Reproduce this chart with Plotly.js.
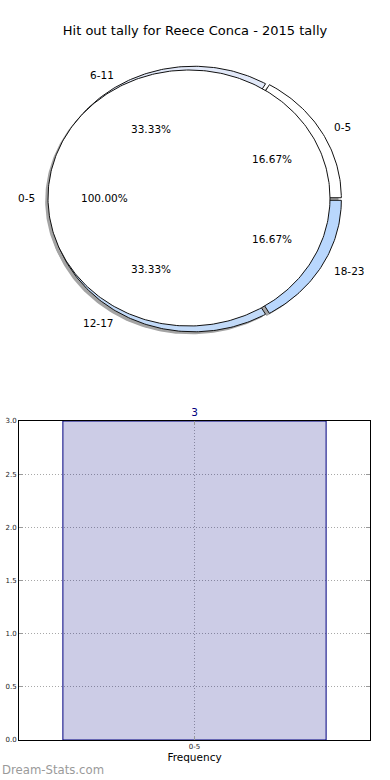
<!DOCTYPE html>
<html><head><meta charset="utf-8">
<script src="https://cdn.plot.ly/plotly-3.0.1.min.js"></script>
<style>html,body{margin:0;padding:0;background:#fff}#chart{width:390px;height:780px}</style>
</head><body><div id="chart"></div><script>
// ---- data ----
const chartTitle = 'Hit out tally for Reece Conca - 2015 tally';
const innerLabels = ['0-5'];
const innerValues = [3];
const outerLabels = ['0-5', '6-11', '12-17', '18-23'];
const outerValues = [1, 2, 2, 1];
const barCategories = ['0-5'];
const barValues = [3];
const barAxisTitle = 'Frequency';
const watermark = 'Dream-Stats.com';

// ---- style ----
const innerColors = ['#ffffff'];
const outerColors = ['#ffffff', '#e2e9f9', '#c2daf8', '#b9d7fd'];
const outerCenter = [0.043, -0.008];
const outerRadius = 1.02;
const explode = 0.02;
const labelDistance = 1.08;
const pctDistance = 0.6;
const shadowOff = [-0.02, -0.02];
const shadowColor = '#a4a4a4';
const FONT = 'DejaVu Sans, sans-serif';

function wedgePts(cx, cy, r, a1, a2, withCenter) {
  const xs = [], ys = [];
  if (withCenter) { xs.push(cx); ys.push(cy); }
  const n = Math.max(8, Math.ceil(Math.abs(a2 - a1)));
  for (let i = 0; i <= n; i++) {
    const a = (a1 + (a2 - a1) * i / n) * Math.PI / 180;
    xs.push(cx + r * Math.cos(a)); ys.push(cy + r * Math.sin(a));
  }
  if (withCenter) { xs.push(cx); ys.push(cy); }
  return { xs, ys };
}

function pieGeometry(values, center, radius, expl) {
  const total = values.reduce((a, b) => a + b, 0);
  let start = 0;
  return values.map(v => {
    const span = v / total * 360;
    const mid = (start + span / 2) * Math.PI / 180;
    const c = [center[0] + expl * Math.cos(mid), center[1] + expl * Math.sin(mid)];
    const g = { a1: start, a2: start + span, mid, c, frac: v / total, full: span >= 359.999 };
    start += span;
    return g;
  });
}

const traces = [];
const annotations = [];
const polyTrace = (pts, fill, lineW) => ({
  type: 'scatter', mode: 'lines', x: pts.xs, y: pts.ys, fill: 'toself', fillcolor: fill,
  line: { color: lineW ? '#111' : fill, width: lineW || 0 }, xaxis: 'x2', yaxis: 'y2',
  hoverinfo: 'skip', showlegend: false
});

const innerGeo = pieGeometry(innerValues, [0, 0], 1, 0);
const outerGeo = pieGeometry(outerValues, outerCenter, outerRadius, explode);

innerGeo.forEach(g => traces.push(polyTrace(wedgePts(g.c[0] + shadowOff[0], g.c[1] + shadowOff[1], 1, g.a1, g.a2, !g.full), shadowColor, 0)));
outerGeo.forEach(g => traces.push(polyTrace(wedgePts(g.c[0] + shadowOff[0], g.c[1] + shadowOff[1], outerRadius, g.a1, g.a2, true), shadowColor, 0)));
outerGeo.forEach((g, i) => traces.push(polyTrace(wedgePts(g.c[0], g.c[1], outerRadius, g.a1, g.a2, true), outerColors[i], 1)));
innerGeo.forEach((g, i) => traces.push(polyTrace(wedgePts(g.c[0], g.c[1], 1, g.a1, g.a2, !g.full), innerColors[i], 1)));

function addPieText(geo, labels, radius) {
  geo.forEach((g, i) => {
    const cs = Math.cos(g.mid), sn = Math.sin(g.mid);
    annotations.push({ xref: 'x2', yref: 'y2', x: g.c[0] + pctDistance * radius * cs, y: g.c[1] + pctDistance * radius * sn,
      text: (g.frac * 100).toFixed(2) + '%', showarrow: false, xanchor: 'center', yanchor: 'middle',
      font: { family: FONT, size: 10.5, color: '#000' } });
    const lx = g.c[0] + labelDistance * radius * cs;
    annotations.push({ xref: 'x2', yref: 'y2', x: lx, y: g.c[1] + labelDistance * radius * sn,
      text: labels[i], showarrow: false, xanchor: lx > 0 ? 'left' : 'right', yanchor: 'middle',
      font: { family: FONT, size: 10.5, color: '#000' } });
  });
}
addPieText(outerGeo, outerLabels, outerRadius);
addPieText(innerGeo, innerLabels, 1);

traces.push({
  type: 'bar', x: barCategories, y: barValues, width: 0.75, xaxis: 'x', yaxis: 'y',
  marker: { color: 'rgba(0,0,128,0.2)', line: { color: '#000080', width: 1 } },
  text: barValues.map(String), textposition: 'outside', cliponaxis: false,
  textfont: { family: FONT, size: 10.5, color: '#000080' }, hoverinfo: 'skip', showlegend: false
});

annotations.push({ xref: 'paper', yref: 'paper', x: 0, y: 10 / 780, xanchor: 'left', yanchor: 'middle',
  text: watermark, showarrow: false, font: { family: FONT, size: 11.7, color: '#9a9a9a' } });

const axCommon = {
  showline: true, linecolor: '#000', linewidth: 1, mirror: 'ticks',
  showgrid: true, gridcolor: '#a8a8a8', griddash: '1px,2px', gridwidth: 1,
  ticks: 'inside', ticklen: 4, tickcolor: '#999', zeroline: false, automargin: false,
  tickfont: { family: FONT, size: 7, color: '#222' }, fixedrange: true
};

const layout = {
  width: 390, height: 780, margin: { l: 0, r: 0, t: 0, b: 0 },
  paper_bgcolor: '#fff', plot_bgcolor: 'rgba(0,0,0,0)', showlegend: false,
  title: { text: chartTitle, font: { family: FONT, size: 13, color: '#000' },
    x: 0.5, xanchor: 'center', xref: 'paper', y: 1 - 30 / 780, yanchor: 'middle', yref: 'container' },
  xaxis2: { domain: [0, 1], anchor: 'y2', range: [-189 / 141, 201 / 141], visible: false, fixedrange: true },
  yaxis2: { domain: [0.5, 1], anchor: 'x2', range: [-192 / 128, 198 / 128], visible: false, fixedrange: true },
  xaxis: Object.assign({}, axCommon, { domain: [19 / 390, 370 / 390], anchor: 'y', type: 'category',
    range: [-0.5, 0.5], title: { text: barAxisTitle, font: { family: FONT, size: 10.5, color: '#000' }, standoff: 2 } }),
  yaxis: Object.assign({}, axCommon, { domain: [40 / 780, 359 / 780], anchor: 'x', range: [0, 3],
    dtick: 0.5, tick0: 0, tickformat: '.1f' }),
  annotations
};

Plotly.newPlot('chart', traces, layout, { displayModeBar: false, staticPlot: true });
</script></body></html>
